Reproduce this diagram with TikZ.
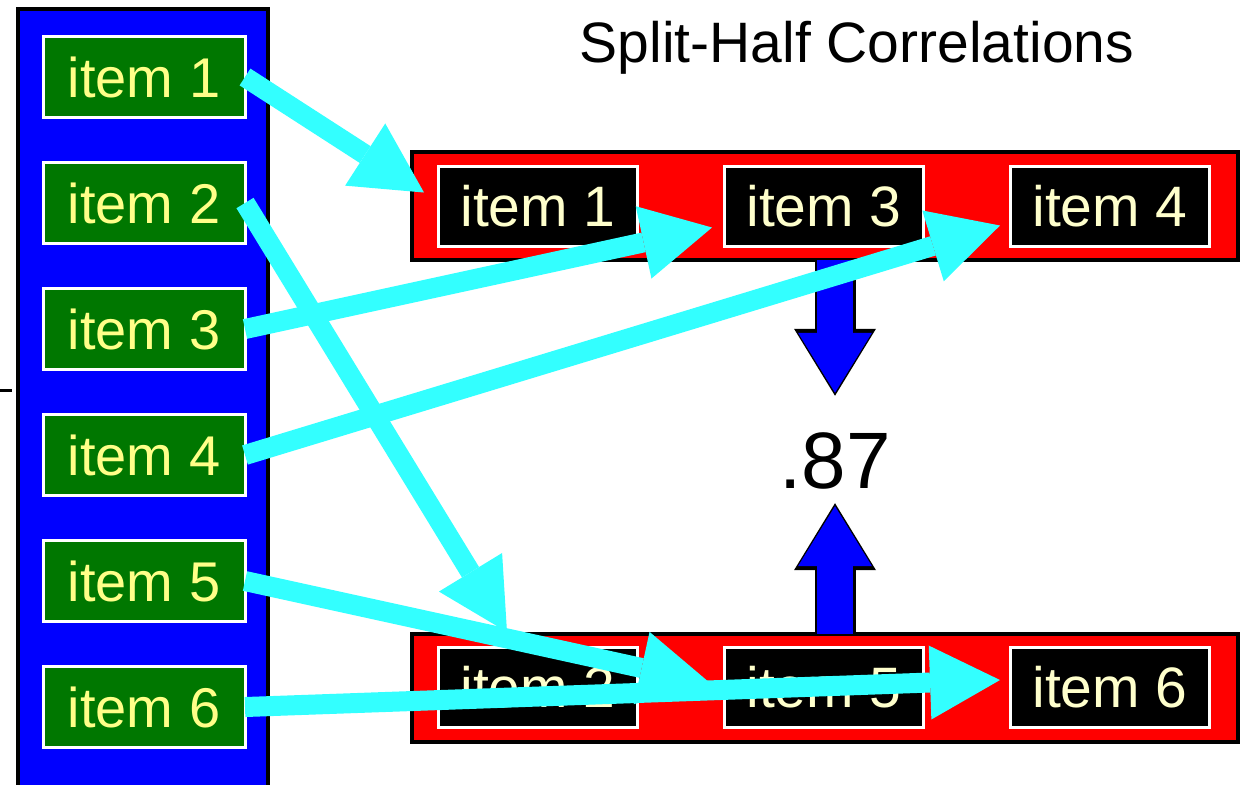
\documentclass[tikz,border=0pt]{standalone}
\usepackage{fontspec}
\setmainfont{Liberation Sans}
\usetikzlibrary{arrows.meta,positioning}
\definecolor{itemgreen}{RGB}{0,119,0}
\definecolor{itemtext}{RGB}{255,255,136}
\definecolor{halftext}{RGB}{255,255,204}
\definecolor{feedcyan}{RGB}{51,255,255}
\tikzset{
    %Define style for the item boxes
    itembox/.style={
           rectangle,
           draw=white,
           line width=1.5pt,
           fill=itemgreen,
           text=itemtext,
           minimum width=101pt,
           minimum height=40.5pt,
           outer sep=0pt,
           font=\fontsize{28}{28}\selectfont},
    halfbox/.style={
           itembox,
           fill=black,
           text=halftext,
           minimum width=99.5pt,
           minimum height=40pt,
           font=\fontsize{28.5}{28.5}\selectfont},
    %Define style for the halves
    halfbar/.style={
           rectangle,
           draw=black,
           line width=2pt,
           fill=red,
           minimum width=413pt,
           minimum height=54pt,
           outer sep=0pt},
    % Define arrow styles
    feed/.style={
           feedcyan,
           line width=10pt,
           -{Triangle[width=37pt,length=35pt,line width=0pt]}},
    corr/.style={
           blue,
           line width=18pt,
           -{Triangle[width=37pt,length=30pt,line width=0pt]},
           preaction={draw=black,line width=20.5pt,
             -{Triangle[width=41pt,length=33.5pt,line width=0pt]},
             shorten >=-1.5pt}}
}
\begin{document}
\begin{tikzpicture}[x=0.5pt,y=-0.5pt,node distance=22.5pt]
  \useasboundingbox (0,0) rectangle (1241,784);
  \node[rectangle,draw=black,line width=2pt,fill=blue,anchor=north west,
    minimum width=125pt,minimum height=400pt,outer sep=0pt] (pool) at (18,9) {};
  \draw[line width=1.5pt] (0,390) -- (12,390);
  \node[itembox] (g1) at (144,77) {item 1};
  \node[itembox,below=of g1] (g2) {item 2};
  \node[itembox,below=of g2] (g3) {item 3};
  \node[itembox,below=of g3] (g4) {item 4};
  \node[itembox,below=of g4] (g5) {item 5};
  \node[itembox,below=of g5] (g6) {item 6};
  \node[halfbar] (top) at (825,206) {};
  \node[halfbox,right=13.25pt of top.west] (t1) {item 1};
  \node[halfbox,right=43.5pt of t1] (t3) {item 3};
  \node[halfbox,right=43.5pt of t3] (t4) {item 4};
  \node[halfbar] (bot) at (825,687.5) {};
  \node[halfbox,right=13.25pt of bot.west] (b2) {item 2};
  \node[halfbox,right=43.5pt of b2] (b5) {item 5};
  \node[halfbox,right=43.5pt of b5] (b6) {item 6};
  \node[anchor=base,font=\fontsize{28.5}{28.5}\selectfont] (title) at (857,62) {Split-Half Correlations};
  \node[anchor=base,inner sep=0pt,font=\fontsize{40}{40}\selectfont] (val) at (835,488) {.87};
  \draw[corr] (top.south -| val) -- ([yshift=19.5pt]val.north);
  \draw[corr] (bot.north -| val) -- ([yshift=-8.5pt]val.south);
  \draw[feed] (g1.east) -- ([shift={(-14.5,-13.5)}]t1.west);
  \draw[feed] (g2.east) -- ([shift={(-31,-15.5)}]b2.north);
  \draw[feed] (g3.east) -- ([shift={(-12.5,21.5)}]t3.west);
  \draw[feed] (g4.east) -- ([shift={(-10.5,19.5)}]t4.west);
  \draw[feed] (g5.east) -- ([shift={(-14.5,-4.5)}]b5.west);
  \draw[feed] (g6.east) -- ([shift={(-10.5,-7.5)}]b6.west);
\end{tikzpicture}
\end{document}
